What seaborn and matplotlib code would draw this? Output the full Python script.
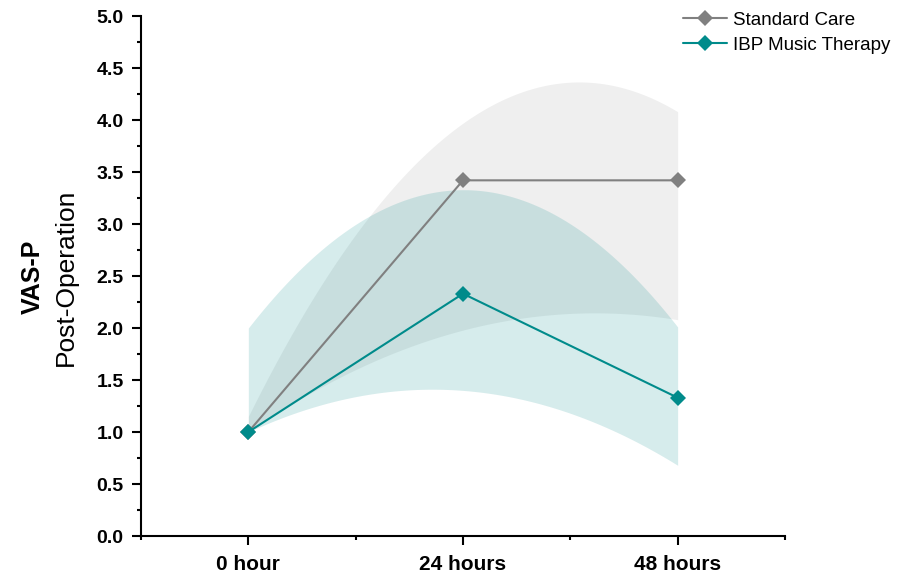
import numpy as np
import pandas as pd
import seaborn as sns
import matplotlib.pyplot as plt
from matplotlib.ticker import MultipleLocator

# Data
timepoints = ["0 hour", "24 hours", "48 hours"]
standard_mean = [1.0, 3.42, 3.42]
standard_lower = [1.0, 1.98, 2.08]
standard_upper = [1.15, 3.97, 4.08]
music_mean = [1.0, 2.33, 1.33]
music_lower = [1.0, 1.40, 0.68]
music_upper = [2.0, 3.33, 2.01]

GREY = "#808080"
TEAL = "#008b8b"

sns.set_style("ticks")
plt.rcParams['font.family'] = ['Liberation Sans', 'DejaVu Sans']
plt.rcParams['text.color'] = 'black'
plt.rcParams['xtick.color'] = 'black'
plt.rcParams['ytick.color'] = 'black'

df = pd.DataFrame({
  "pos": list(range(len(timepoints))) * 2,
  "vas": standard_mean + music_mean,
  "group": ["Standard Care"] * 3 + ["IBP Music Therapy"] * 3,
})

fig = plt.figure(figsize=(9.18, 5.74), dpi=100)
ax = fig.add_axes([0.1536, 0.0662, 0.7015, 0.9059])

# smooth bands: curve through the three bound values
pos = np.arange(len(timepoints))
xs = np.linspace(0, 2, 200)
def smooth(vals):
  return np.polyval(np.polyfit(pos, vals, 2), xs)

ax.fill_between(xs, smooth(standard_lower), smooth(standard_upper), color=GREY, alpha=0.125, lw=0, zorder=1)
ax.fill_between(xs, smooth(music_lower), smooth(music_upper), color=TEAL, alpha=0.16, lw=0, zorder=1)

sns.lineplot(data=df[df.group == "Standard Care"], x="pos", y="vas", color=GREY, marker="D",
             markersize=8.5, markeredgewidth=0, lw=1.5, label="Standard Care", ax=ax, zorder=3)
sns.lineplot(data=df[df.group == "IBP Music Therapy"], x="pos", y="vas", color=TEAL, marker="D",
             markersize=8.5, markeredgewidth=0, lw=1.5, label="IBP Music Therapy", ax=ax, zorder=4)

ax.set_xlim(-0.5, 2.5)
ax.set_ylim(0, 5)
ax.set_xticks(pos)
ax.set_xticklabels(timepoints, fontsize=15, fontweight="bold")
ax.set_xticks([-0.5, 0.5, 1.5, 2.5], minor=True)
yt = np.arange(0, 5.01, 0.5)
ax.set_yticks(yt)
ax.set_yticklabels(["{:.1f}".format(v) for v in yt], fontsize=14, fontweight="bold")
ax.yaxis.set_minor_locator(MultipleLocator(0.25))
ax.tick_params(which="major", length=6.5, width=1.5, color="black")
ax.tick_params(which="minor", length=3, width=1.5, color="black")
ax.tick_params(axis="y", which="major", pad=6)
ax.tick_params(axis="x", which="major", pad=7)

sns.despine(ax=ax)
for s in ["left", "bottom"]:
  ax.spines[s].set_linewidth(1.5)
  ax.spines[s].set_color("black")

ax.set_xlabel("")
ax.set_ylabel("")
fig.text(33 / 918, 0.517, "VAS-P", rotation=90, fontsize=18, fontweight="bold", ha="center", va="center")
fig.text(66 / 918, 0.517, "Post-Operation", rotation=90, fontsize=19, ha="center", va="center")

ax.legend(loc="upper left", bbox_to_anchor=(0.744, 0.98), bbox_transform=fig.transFigure,
          frameon=False, fontsize=13.5, handlelength=2.35, labelspacing=0.42, handletextpad=0.3,
          borderaxespad=0, borderpad=0)

plt.savefig("out.png", dpi=100)
